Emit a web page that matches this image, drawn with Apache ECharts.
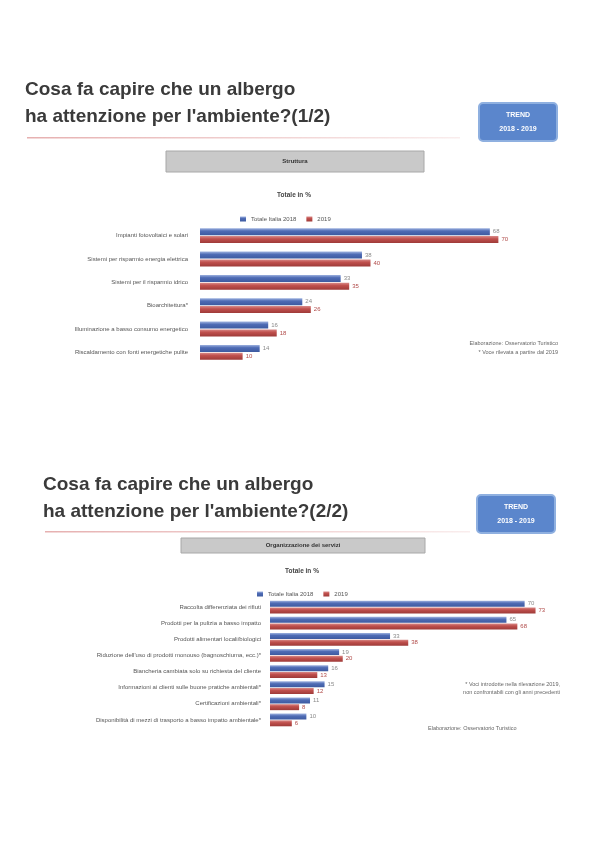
<!DOCTYPE html>
<html>
<head>
<meta charset="utf-8">
<script src="https://cdn.jsdelivr.net/npm/echarts@6/dist/echarts.min.js"></script>
<style>
  html, body { margin: 0; padding: 0; background: #fff; }
  #page { width: 595px; height: 842px; }
</style>
</head>
<body>
<div id="page"></div>
<script>
// dati grafico 1 - Struttura
const catStruttura = [
  'Impianti fotovoltaici e solari',
  'Sistemi per risparmio energia elettrica',
  'Sistemi per il risparmio idrico',
  'Bioarchitettura*',
  'Illuminazione a basso consumo energetico',
  'Riscaldamento con fonti energetiche pulite'
];
const struttura2018 = [68, 38, 33, 24, 16, 14];
const struttura2019 = [70, 40, 35, 26, 18, 10];

// dati grafico 2 - Organizzazione dei servizi
const catServizi = [
  'Raccolta differenziata dei rifiuti',
  'Prodotti per la pulizia a basso impatto',
  'Prodotti alimentari locali/biologici',
  "Riduzione dell'uso di prodotti monouso (bagnoschiuma, ecc.)*",
  'Biancheria cambiata solo su richiesta del cliente',
  'Informazioni ai clienti sulle buone pratiche ambientali*',
  'Certificazioni ambientali*',
  'Disponibilità di mezzi di trasporto a basso impatto ambientale*'
];
const servizi2018 = [70, 65, 33, 19, 16, 15, 11, 10];
const servizi2019 = [73, 68, 38, 20, 13, 12, 8, 6];

const serieNomi = ['Totale Italia 2018', '2019'];

const BLU = '#4f6cb5';
const ROSSO = '#c0504d';
const FONT = 'Liberation Sans';

const gradBlu = new echarts.graphic.LinearGradient(0, 0, 0, 1, [
  { offset: 0, color: '#9fb3e0' }, { offset: 0.4, color: BLU }, { offset: 1, color: '#3d5aa0' }
]);
const gradRosso = new echarts.graphic.LinearGradient(0, 0, 0, 1, [
  { offset: 0, color: '#d98a88' }, { offset: 0.4, color: ROSSO }, { offset: 1, color: '#9e3a38' }
]);

function titolo(x, y, righe) {
  return righe.map((t, i) => ({
    type: 'text', left: x, top: y + i * 27,
    style: { text: t, font: 'bold 19px "' + FONT + '"', fill: '#3a3a3a' }
  }));
}

function lineaRossa(x1, x2, y) {
  return {
    type: 'rect', shape: { x: x1, y: y, width: x2 - x1, height: 1.5 },
    style: {
      fill: new echarts.graphic.LinearGradient(0, 0, 1, 0, [
        { offset: 0, color: 'rgba(200,80,80,0.45)' }, { offset: 1, color: 'rgba(200,80,80,0.1)' }
      ])
    }
  };
}

function boxTrend(x, y) {
  return [
    { type: 'rect', shape: { x: x, y: y, width: 78, height: 38, r: 4 },
      style: { fill: '#5b86cc', stroke: '#8fb0e0', lineWidth: 2 } },
    { type: 'text', x: x + 39, y: y + 12,
      style: { text: 'TREND', font: 'bold 7px "' + FONT + '"', fill: '#fff', align: 'center', verticalAlign: 'middle' } },
    { type: 'text', x: x + 39, y: y + 26,
      style: { text: '2018 - 2019', font: 'bold 7px "' + FONT + '"', fill: '#fff', align: 'center', verticalAlign: 'middle' } }
  ];
}

function boxGrigio(x, y, w, h, testo) {
  return [
    { type: 'rect', shape: { x: x, y: y, width: w, height: h },
      style: { fill: '#c9c9c9', stroke: '#a8a8a8', lineWidth: 1 } },
    { type: 'text', x: x + w / 2, y: y + h / 2,
      style: { text: testo, font: 'bold 6px "' + FONT + '"', fill: '#333', align: 'center', verticalAlign: 'middle' } }
  ];
}

function testoPiccolo(x, y, t, align) {
  return { type: 'text', x: x, y: y,
    style: { text: t, font: '5.5px "' + FONT + '"', fill: '#666', align: align || 'left', verticalAlign: 'middle' } };
}

function serie(nome, dati, idx, grad, colLabel, bw) {
  return {
    name: nome, type: 'bar', data: dati,
    xAxisIndex: idx, yAxisIndex: idx,
    barWidth: bw, barGap: '12%',
    itemStyle: { color: grad },
    label: { show: true, position: 'right', distance: 3, fontSize: 6, color: colLabel, fontFamily: FONT },
    emphasis: { disabled: true }
  };
}

const chart = echarts.init(document.getElementById('page'), null, { renderer: 'canvas' });

chart.setOption({
  animation: false,
  textStyle: { fontFamily: FONT },
  legend: [
    { data: serieNomi, left: 235, top: 211, itemWidth: 6, itemHeight: 5, itemGap: 10,
      textStyle: { fontSize: 6, color: '#555' }, icon: 'rect' },
    { data: serieNomi, left: 252, top: 586, itemWidth: 6, itemHeight: 5, itemGap: 10,
      textStyle: { fontSize: 6, color: '#555' }, icon: 'rect' }
  ],
  color: [BLU, ROSSO],
  grid: [
    { left: 200, width: 341, top: 224, height: 140 },
    { left: 270, width: 291, top: 599, height: 129 }
  ],
  xAxis: [
    { gridIndex: 0, type: 'value', min: 0, max: 80, show: false },
    { gridIndex: 1, type: 'value', min: 0, max: 80, show: false }
  ],
  yAxis: [
    { gridIndex: 0, type: 'category', data: catStruttura, inverse: true,
      axisLine: { show: false }, axisTick: { show: false },
      axisLabel: { fontSize: 6, color: '#555', margin: 12 } },
    { gridIndex: 1, type: 'category', data: catServizi, inverse: true,
      axisLine: { show: false }, axisTick: { show: false },
      axisLabel: { fontSize: 6, color: '#555', margin: 9 } }
  ],
  series: [
    serie(serieNomi[0], struttura2018, 0, gradBlu, '#8a8a8a', 7),
    serie(serieNomi[1], struttura2019, 0, gradRosso, '#b04a48', 7),
    serie(serieNomi[0], servizi2018, 1, gradBlu, '#8a8a8a', 6),
    serie(serieNomi[1], servizi2019, 1, gradRosso, '#b04a48', 6)
  ],
  graphic: [
    ...titolo(25, 80, ['Cosa fa capire che un albergo', "ha attenzione per l'ambiente?(1/2)"]),
    lineaRossa(27, 460, 137),
    ...boxTrend(479, 103),
    ...boxGrigio(166, 151, 258, 21, 'Struttura'),
    { type: 'text', x: 294, y: 195,
      style: { text: 'Totale in %', font: 'bold 6.5px "' + FONT + '"', fill: '#444', align: 'center', verticalAlign: 'middle' } },
    testoPiccolo(558, 343, 'Elaborazione: Osservatorio Turistico', 'right'),
    testoPiccolo(558, 352, '* Voce rilevata a partire dal 2019', 'right'),

    ...titolo(43, 475, ['Cosa fa capire che un albergo', "ha attenzione per l'ambiente?(2/2)"]),
    lineaRossa(45, 470, 531),
    ...boxTrend(477, 495),
    ...boxGrigio(181, 538, 244, 15, 'Organizzazione dei servizi'),
    { type: 'text', x: 302, y: 571,
      style: { text: 'Totale in %', font: 'bold 6.5px "' + FONT + '"', fill: '#444', align: 'center', verticalAlign: 'middle' } },
    testoPiccolo(560, 684, '* Voci introdotte nella rilevazione 2019,', 'right'),
    testoPiccolo(560, 692, 'non confrontabili con gli anni precedenti', 'right'),
    testoPiccolo(428, 728, 'Elaborazione: Osservatorio Turistico', 'left')
  ]
});
</script>
</body>
</html>
